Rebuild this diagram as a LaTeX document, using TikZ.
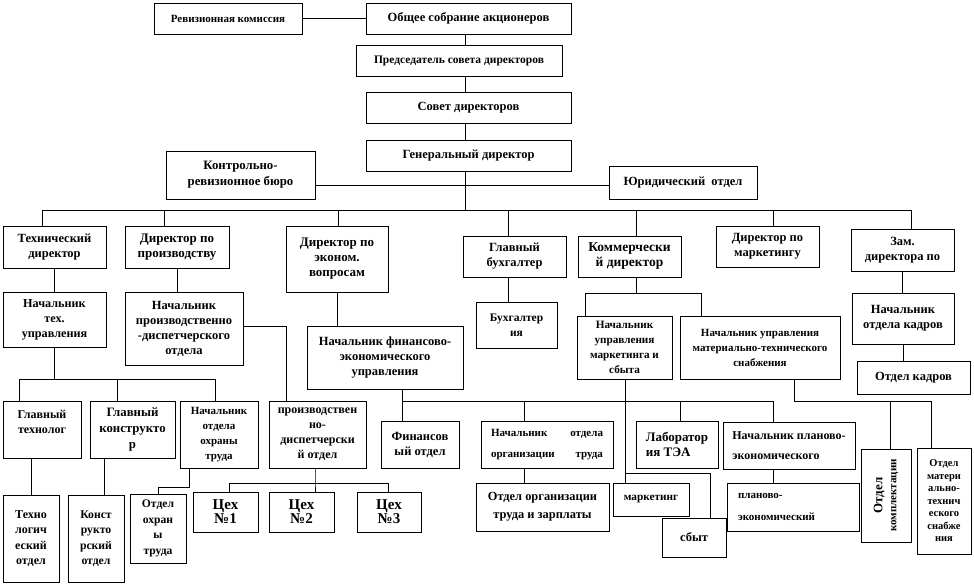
\documentclass[tikz,border=0pt]{standalone}
\usepackage{fontspec}
\setmainfont{Liberation Serif}
\newcommand\ofs[2]{\bfseries\fontsize{#1}{#2}\selectfont}
\newcommand\obox[7]{%
  \pgfmathsetmacro\bxw{#5-#3}\pgfmathsetmacro\bxh{#6-#4}%
  \pgfmathsetmacro\bxx{(#3+#5)/2}\pgfmathsetmacro\bxy{(#4+#6)/2}%
  \node[box,minimum width=\bxw pt,minimum height=\bxh pt,#1] (#2) at (\bxx,\bxy) {#7};}
\tikzset{
  box/.style={draw,fill=white,inner sep=0pt,align=center,font=\ofs{12.5}{15}},
  lft/.style={align=left}
}
\begin{document}
\begin{tikzpicture}[x=1pt,y=-1pt,line width=0.7pt]
\useasboundingbox (0,0) rectangle (974,587);
% level 0-1
\obox{font=\ofs{11}{15}}{rev}{154}{3}{302}{34}{Ревизионная комиссия}
\obox{}{osa}{366}{3}{571}{34}{Общее собрание акционеров}
\obox{font=\ofs{11.5}{15}}{pred}{356}{45}{562}{76}{Председатель совета директоров}
\obox{}{sovet}{366}{92}{571}{123}{Совет директоров}
\obox{}{gen}{366}{140}{571}{171}{Генеральный директор}
\obox{font=\ofs{12.8}{16}}{krb}{166}{151}{315}{199}{Контрольно-\\ревизионное бюро}
\obox{}{jur}{609}{166}{757}{199}{Юридический\ \ отдел}
% level 2
\obox{}{tech}{3}{226}{106}{268}{Технический\\директор}
\obox{font=\ofs{13}{15}}{proizv}{125}{226}{229}{268}{Директор по\\производству}
\obox{font=\ofs{13}{15}}{econ}{286}{226}{388}{292}{Директор по\\эконом.\\вопросам}
\obox{}{buh}{463}{236}{566}{277}{Главный\\бухгалтер}
\obox{font=\ofs{13.5}{15}}{komm}{578}{236}{681}{277}{Коммерчески\\й директор}
\obox{}{mark}{716}{226}{819}{267}{Директор по\\маркетингу}
\obox{}{zam}{851}{229}{954}{271}{Зам.\\директора по}
% level 3
\obox{font=\ofs{12.2}{15}}{ntech}{3}{292}{106}{347}{Начальник\\тех.\\управления}
\obox{}{nproizv}{125}{292}{243}{365}{Начальник\\производственно\\-диспетчерского\\отдела}
\obox{}{nfin}{307}{326}{463}{389}{Начальник финансово-\\экономического\\управления}
\obox{font=\ofs{11.5}{15}}{buhg}{476}{302}{557}{348}{Бухгалтер\\ия}
\obox{font=\ofs{11.2}{15}}{nmks}{577}{316}{672}{379}{Начальник\\управления\\маркетинга и\\сбыта}
\obox{font=\ofs{11}{15}}{nmts}{680}{316}{840}{379}{Начальник управления\\материально-технического\\снабжения}
\obox{}{nkadr}{852}{293}{954}{344}{Начальник\\отдела кадров}
\obox{}{okadr}{857}{361}{970}{394}{Отдел кадров}
% level 4
\obox{font=\ofs{12}{15}}{gtech}{3}{401}{81}{458}{Главный\\технолог\\\mbox{}}
\obox{font=\ofs{12.8}{16}}{gkon}{90}{401}{175}{458}{Главный\\конструкто\\р}
\obox{font=\ofs{11}{15}}{noxr}{180}{401}{258}{468}{Начальник\\отдела\\охраны\\труда}
\obox{font=\ofs{12}{15}}{pdo}{269}{401}{366}{468}{производствен\\но-\\диспетчерски\\й отдел}
\obox{}{finotd}{381}{421}{459}{468}{Финансов\\ый отдел}
\obox{font=\ofs{11}{21}}{norg}{481}{421}{613}{468}{\makebox[112pt][s]{Начальник\hfill отдела}\\\makebox[112pt][s]{организации\hfill труда}}
\obox{lft,font=\ofs{13}{15}}{lab}{636}{421}{718}{468}{Лаборатор\\ия ТЭА}
\obox{lft,font=\ofs{12}{20}}{nplan}{723}{422}{855}{469}{Начальник планово-\\экономического}
\node[box,rotate=90,minimum width=93pt,minimum height=50pt,font=\ofs{11}{14}] (okompl) at (886,495.5) {{\fontsize{13}{14}\selectfont Отдел}\\комплектации};
\obox{font=\ofs{10.5}{12.5}}{omts}{917}{448}{971}{554}{Отдел\\матери\\ально-\\технич\\еского\\снабже\\ния}
% level 5
\obox{font=\ofs{12}{15.5}}{texotd}{3}{495}{59}{582}{Техно\\логич\\еский\\отдел}
\obox{font=\ofs{11.7}{15.5}}{konotd}{68}{495}{124}{582}{Конст\\рукто\\рский\\отдел}
\obox{font=\ofs{11.6}{15.5}}{ooxr}{130}{494}{186}{563}{Отдел\\охран\\ы\\труда}
\obox{font=\ofs{15}{14}}{cex1}{193}{492}{258}{532}{Цех\\№1}
\obox{font=\ofs{15}{14}}{cex2}{269}{492}{334}{532}{Цех\\№2}
\obox{font=\ofs{15}{14}}{cex3}{357}{492}{421}{532}{Цех\\№3}
\obox{font=\ofs{12.4}{18}}{ozp}{476}{483}{609}{531}{Отдел организации\\труда и зарплаты}
\obox{font=\ofs{11.3}{15}}{marketing}{613}{483}{689}{516}{маркетинг}
\obox{}{sbyt}{662}{518}{726}{557}{сбыт}
\obox{lft,text width=110pt,font=\ofs{11}{22}}{plan}{727}{483}{859}{531}{планово-\\экономический}
% connectors: top
\draw (rev.east) -- (osa.west);
\coordinate (tk) at (465,210);
\draw (tk |- osa.south) -- (tk |- pred.north);
\draw (tk |- pred.south) -- (tk |- sovet.north);
\draw (tk |- sovet.south) -- (tk |- gen.north);
\draw (tk |- gen.south) -- (tk);
\coordinate (sy) at (465,185);
\draw (krb.east |- sy) -- (jur.west |- sy);
% main bus
\coordinate (b1) at (42,210);
\coordinate (b2) at (164,210);
\coordinate (b3) at (338,210);
\coordinate (b5) at (508,210);
\coordinate (b6) at (636,210);
\coordinate (b7) at (773,210);
\coordinate (b8) at (911,210);
\draw (b1) -- (b8);
\draw (b1) -- (b1 |- tech.north);
\draw (b2) -- (b2 |- proizv.north);
\draw (b3) -- (b3 |- econ.north);
\draw (b5) -- (b5 |- buh.north);
\draw (b6) -- (b6 |- komm.north);
\draw (b7) -- (b7 |- mark.north);
\draw (b8) -- (b8 |- zam.north);
% technical branch
\draw (tech.south) -- (ntech.north);
\coordinate (t1) at (19,379);
\coordinate (t2) at (117,379);
\coordinate (t3) at (215,379);
\draw (ntech.south) -- (ntech.south |- t1);
\draw (t1) -- (t3);
\draw (t1) -- (t1 |- gtech.north);
\draw (t2) -- (t2 |- gkon.north);
\draw (t3) -- (t3 |- noxr.north);
\draw (texotd.north |- gtech.south) -- (texotd.north);
\coordinate (kx) at (104,495);
\draw (kx |- gkon.south) -- (kx);
\coordinate (ox) at (189,487);
\draw (ox |- noxr.south) -- (ox) -- (ooxr.north |- ox) -- (ooxr.north);
% production branch
\draw (proizv.south) -- (proizv.south |- nproizv.north);
\coordinate (pp) at (286,326);
\draw (nproizv.east |- pp) -- (pp) -- (pp |- pdo.north);
\coordinate (c1) at (229,483);
\coordinate (c2) at (315,483);
\coordinate (c3) at (388,483);
\draw (c2 |- pdo.south) -- (c2) -- (c2 |- cex2.north);
\draw (c1) -- (c3);
\draw (c1) -- (c1 |- cex1.north);
\draw (c3) -- (c3 |- cex3.north);
% economics branch
\draw (econ.south) -- (econ.south |- nfin.north);
\coordinate (f1) at (402,401);
\coordinate (f2) at (524,401);
\coordinate (f3) at (680,401);
\coordinate (f4) at (773,401);
\draw (f1 |- nfin.south) -- (f1 |- finotd.north);
\draw (f1) -- (f4);
\draw (f2) -- (f2 |- norg.north);
\draw (f3) -- (f3 |- lab.north);
\draw (f4) -- (f4 |- nplan.north);
\draw (f2 |- norg.south) -- (f2 |- ozp.north);
\draw (f4 |- nplan.south) -- (f4 |- plan.north);
% accounting
\draw (b5 |- buh.south) -- (b5 |- buhg.north);
% commercial
\coordinate (m1) at (585,293);
\coordinate (m2) at (636,293);
\coordinate (m3) at (701,293);
\draw (m2 |- komm.south) -- (m2);
\draw (m1) -- (m3);
\draw (m1) -- (m1 |- nmks.north);
\draw (m3) -- (m3 |- nmts.north);
\coordinate (s1) at (625,473);
\coordinate (s2) at (710,473);
\draw (s1 |- nmks.south) -- (s1 |- marketing.north);
\draw (s1) -- (s2) -- (s2 |- sbyt.north);
\coordinate (r1) at (794,401);
\coordinate (r2) at (890,401);
\coordinate (r3) at (931,401);
\draw (r1 |- nmts.south) -- (r1) -- (r3);
\draw (r2) -- (r2 |- okompl.east);
\draw (r3) -- (r3 |- omts.north);
% personnel
\draw (zam.south) -- (zam.south |- nkadr.north);
\draw (nkadr.south) -- (nkadr.south |- okadr.north);
\end{tikzpicture}
\end{document}
